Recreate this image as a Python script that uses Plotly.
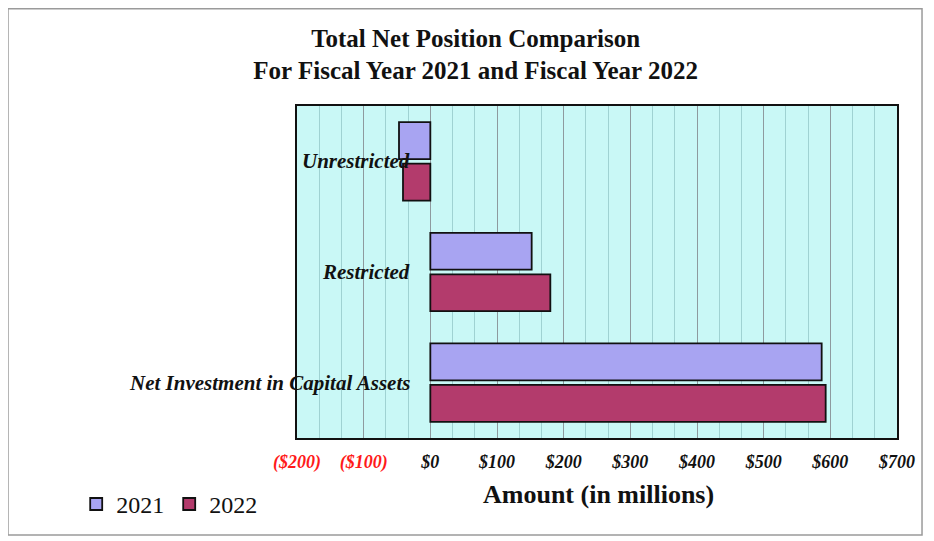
import plotly.graph_objects as go

categories = ["Unrestricted", "Restricted", "Net Investment in Capital Assets"]
values_2021 = [-47, 152, 587]
values_2022 = [-41, 180, 593]
series_names = ["2021", "2022"]
tick_values = [-200, -100, 0, 100, 200, 300, 400, 500, 600, 700]
tick_labels = ["($200)", "($100)", "$0", "$100", "$200", "$300", "$400", "$500", "$600", "$700"]

colors = ["#a8a4f2", "#b33b6c"]
serif = "Liberation Serif"

fig = go.Figure()
for name, vals, col in zip(series_names, [values_2021, values_2022], colors):
    fig.add_trace(go.Bar(
        y=categories, x=vals, name=name, orientation="h",
        marker=dict(color=col, line=dict(color="#111111", width=1.8)),
    ))

ticktext = [
    f'<span style="color:#ff1a1a">{t}</span>' if v < 0 else t
    for v, t in zip(tick_values, tick_labels)
]

fig.update_layout(
    width=926, height=533,
    margin=dict(l=289, r=37, t=98, b=103),
    paper_bgcolor="white",
    plot_bgcolor="#c9f8f6",
    font=dict(family=serif),
    barmode="group",
    bargap=0.25,
    bargroupgap=0.11,
    title=dict(
        text="Total Net Position Comparison<br>For Fiscal Year 2021 and Fiscal Year 2022",
        x=0.505, xanchor="center", y=0.927, yanchor="top",
        font=dict(family=serif, size=25, color="#111111", weight="bold"),
    ),
    showlegend=True,
    legend=dict(
        orientation="h", x=-0.368, xanchor="left", y=-0.2, yanchor="middle",
        font=dict(family=serif, size=24, color="#111111"),
        bgcolor="rgba(0,0,0,0)", itemwidth=30, traceorder="normal",
    ),
    xaxis=dict(
        range=[-200, 700],
        tickvals=tick_values, ticktext=ticktext,
        tickfont=dict(family=serif, size=18, color="#111111", style="italic", weight="bold"),
        ticklabelstandoff=7,
        showgrid=True, gridcolor="#8e9a9e", gridwidth=1.2,
        minor=dict(dtick=100/3, showgrid=True, gridcolor="#9fd2d2", gridwidth=1),
        zeroline=False,
        showline=True, linecolor="#111111", linewidth=1.5, mirror=True,
    ),
    yaxis=dict(
        autorange="reversed",
        showticklabels=False, showgrid=False, zeroline=False,
        showline=True, linecolor="#111111", linewidth=1.5, mirror=True,
    ),
)

for c in categories:
    fig.add_annotation(
        x=0.192, xref="paper", y=c, yref="y", xanchor="right", yanchor="middle",
        text=c, showarrow=False,
        font=dict(family=serif, size=21, color="#111111", style="italic", weight="bold"),
    )

fig.add_annotation(
    x=0.502, xref="paper", y=-0.169, yref="paper", xanchor="center", yanchor="middle",
    text="Amount (in millions)", showarrow=False,
    font=dict(family=serif, size=26, color="#111111", weight="bold"),
)

fig.add_shape(
    type="rect", xref="paper", yref="paper",
    x0=-0.4817, x1=1.0417, y0=-0.292, y1=1.293,
    line=dict(color="#9a9a9a", width=1.5), fillcolor="rgba(0,0,0,0)", layer="below",
)

fig.write_html("out.html")
